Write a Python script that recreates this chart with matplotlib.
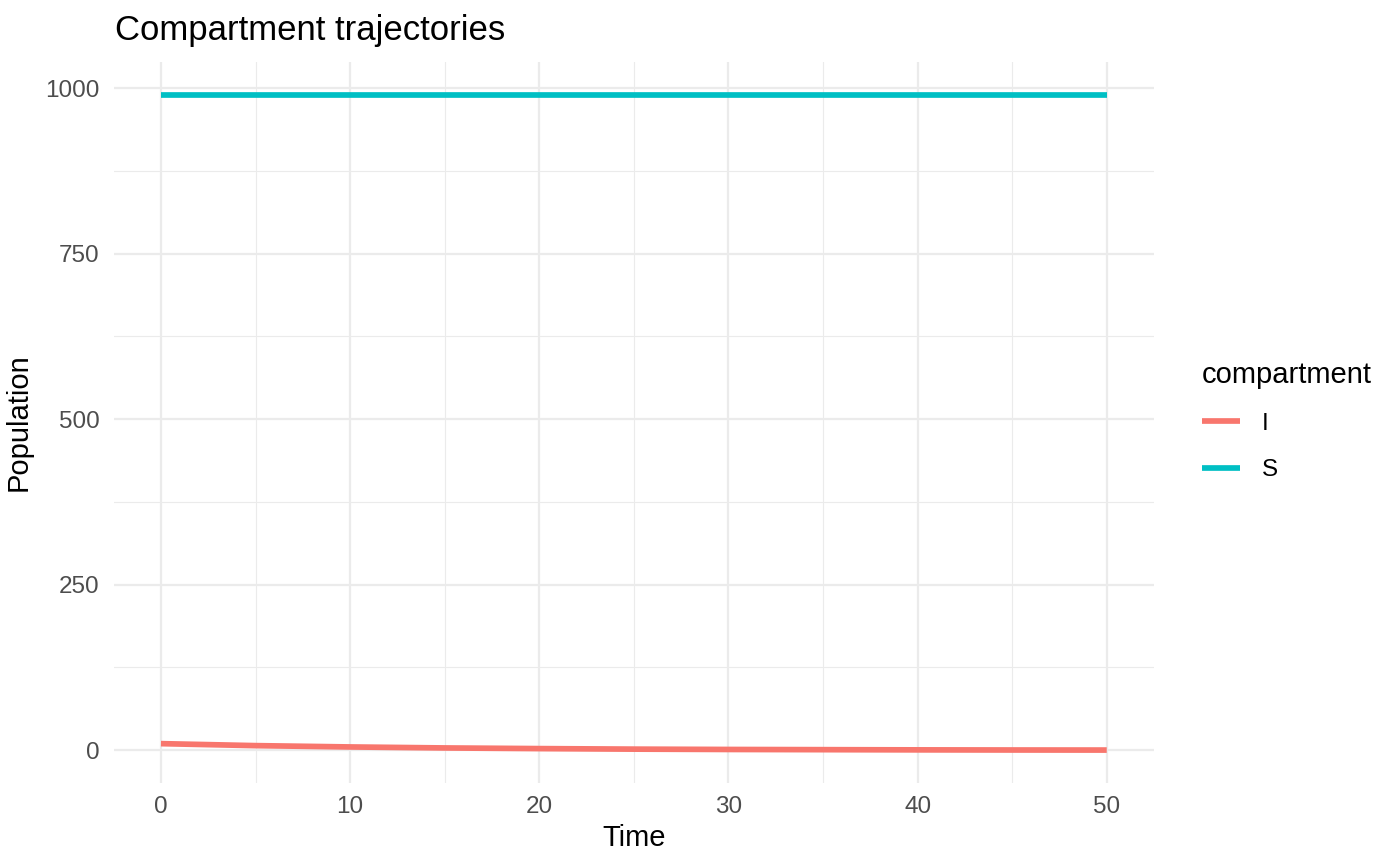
import matplotlib
matplotlib.use("Agg")
from matplotlib import pyplot as plt
from matplotlib.ticker import MultipleLocator

plt.rcParams['font.family'] = ['Liberation Sans', 'DejaVu Sans']

# data
time = [0, 5, 10, 15, 20, 25, 30, 35, 40, 45, 50]
I_vals = [10, 7.0, 5.0, 3.5, 2.5, 1.7, 1.2, 0.9, 0.6, 0.4, 0.3]
S_vals = [990, 990, 990, 990, 990, 990, 990, 990, 990, 990, 990]
compartments = ['I', 'S']
colors = {'I': '#F8766D', 'S': '#00BFC4'}

fig = plt.figure(figsize=(14, 8.66), dpi=100)
ax = fig.add_axes([0.0812, 0.0958, 0.7431, 0.8326])

ax.plot(time, I_vals, color=colors['I'], lw=4.1, label='I', solid_capstyle='butt')
ax.plot(time, S_vals, color=colors['S'], lw=4.1, label='S', solid_capstyle='butt')

ax.set_xlim(-2.5, 52.5)
ax.set_ylim(-49.5, 1039.5)
ax.xaxis.set_major_locator(MultipleLocator(10))
ax.xaxis.set_minor_locator(MultipleLocator(5))
ax.yaxis.set_major_locator(MultipleLocator(250))
ax.yaxis.set_minor_locator(MultipleLocator(125))
ax.grid(which='major', color='#EBEBEB', lw=1.6)
ax.grid(which='minor', color='#EBEBEB', lw=0.8)
ax.set_axisbelow(True)
for s in ax.spines.values():
    s.set_visible(False)
ax.tick_params(which='both', length=0, labelsize=17.5, labelcolor='#4D4D4D')
ax.tick_params(axis='x', pad=9)
ax.tick_params(axis='y', pad=10)

ax.set_xlabel('Time', fontsize=21, labelpad=5)
ax.set_ylabel('Population', fontsize=21, labelpad=9)
fig.text(115 / 1400, 1 - 40 / 866, 'Compartment trajectories', fontsize=25,
         va='baseline', ha='left')

leg = ax.legend(title='compartment', loc='center left',
                bbox_to_anchor=(1190 / 1400, 1 - 421 / 866),
                bbox_transform=fig.transFigure,
                frameon=False, fontsize=17.5, title_fontsize=21, borderpad=0,
                handlelength=1.55, labelspacing=1.0, handletextpad=0.9)
leg._legend_box.align = 'left'

fig.savefig('out.png', dpi=100)
